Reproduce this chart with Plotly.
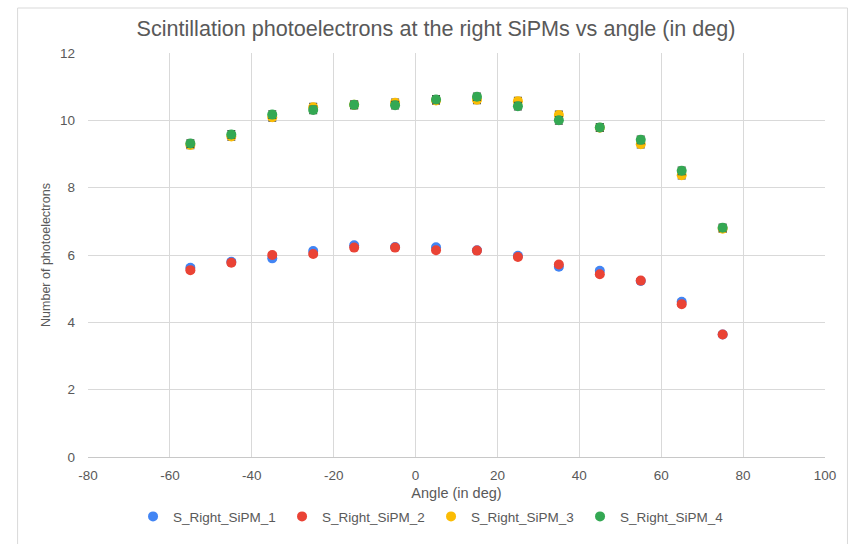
import plotly.graph_objects as go

angles = [-55, -45, -35, -25, -15, -5, 5, 15, 25, 35, 45, 55, 65, 75]

sipm1 = [5.62, 5.80, 5.90, 6.12, 6.29, 6.24, 6.23, 6.14, 5.98, 5.65, 5.53, 5.23, 4.61, 3.64]
sipm2 = [5.55, 5.77, 6.00, 6.03, 6.22, 6.22, 6.14, 6.13, 5.94, 5.72, 5.43, 5.24, 4.54, 3.64]
sipm3 = [9.27, 9.52, 10.09, 10.39, 10.46, 10.52, 10.59, 10.61, 10.57, 10.16, 9.78, 9.29, 8.37, 6.78]
sipm4 = [9.31, 9.58, 10.17, 10.31, 10.46, 10.45, 10.62, 10.70, 10.42, 10.00, 9.79, 9.42, 8.50, 6.81]

err1 = [0.06] * 14
err2 = [0.06] * 14
err3 = [0.11] * 14
err4 = [0.11] * 14

names = ["S_Right_SiPM_1", "S_Right_SiPM_2", "S_Right_SiPM_3", "S_Right_SiPM_4"]
colors = ["#4285F4", "#EA4335", "#FBBC04", "#34A853"]

x_tickvals = [-80, -60, -40, -20, 0, 20, 40, 60, 80, 100]
x_ticktext = ["-80", "-60", "-40", "-20", "0", "20", "40", "60", "80", "100"]
y_tickvals = [0, 2, 4, 6, 8, 10, 12]
y_ticktext = ["0", "2", "4", "6", "8", "10", "12"]

fig = go.Figure()
for name, ys, errs, col in zip(names, [sipm1, sipm2, sipm3, sipm4],
                               [err1, err2, err3, err4], colors):
    fig.add_trace(go.Scatter(
        x=angles, y=ys, mode="markers", name=name,
        marker=dict(color=col, size=10),
        error_y=dict(type="data", array=errs, visible=True,
                     color="#444444", thickness=1.3, width=4),
    ))

W, H = 855, 544
L, R, T, B = 87.5, 825.5, 53.3, 460.0
pw, ph = R - L, B - T

grid = "#d9d9d9"
tick_font = dict(family="Liberation Sans, Arial, sans-serif", size=13.5, color="#595959")

fig.update_layout(
    width=W, height=H,
    margin=dict(l=L, r=W - R, t=T, b=H - B, pad=0),
    paper_bgcolor="white", plot_bgcolor="white",
    font=dict(family="Liberation Sans, Arial, sans-serif", color="#595959"),
    title=dict(text="Scintillation photoelectrons at the right SiPMs vs angle (in deg)",
               x=436 / W, xref="container", xanchor="center",
               y=1 - 28 / H, yref="container", yanchor="middle",
               font=dict(size=21.6, color="#595959")),
    xaxis=dict(range=[-80, 100], tickvals=x_tickvals, ticktext=x_ticktext,
               showgrid=True, gridcolor=grid,
               gridwidth=1, zeroline=False, showline=True, linecolor="#c8c8c8",
               mirror=False, ticks="", tickfont=tick_font, ticklabelstandoff=6,
               title=dict(text="Angle (in deg)", font=dict(size=14.5, color="#595959"),
                          standoff=5)),
    yaxis=dict(range=[0, 12], tickvals=y_tickvals, ticktext=y_ticktext,
               showgrid=True, gridcolor=grid, gridwidth=1,
               zeroline=False, showline=False, ticks="", tickfont=tick_font,
               ticklabelstandoff=12,
               title=dict(text="Number of photoelectrons",
                          font=dict(size=12.5, color="#595959"), standoff=6)),
    legend=dict(orientation="h", x=(431 - L) / pw, xanchor="center",
                y=(B - 520) / ph, yanchor="middle",
                font=dict(size=13.5, color="#595959"), itemwidth=30,
                entrywidth=104, bgcolor="rgba(0,0,0,0)"),
    showlegend=True,
)

# chart frame border
fig.add_shape(type="rect", xref="paper", yref="paper",
              x0=(17 - L) / pw, x1=(848 - L) / pw,
              y0=(B - 560) / ph, y1=(B - 8) / ph,
              line=dict(color="#d9d9d9", width=1), fillcolor="rgba(0,0,0,0)",
              layer="below")

fig.write_html("out.html")
